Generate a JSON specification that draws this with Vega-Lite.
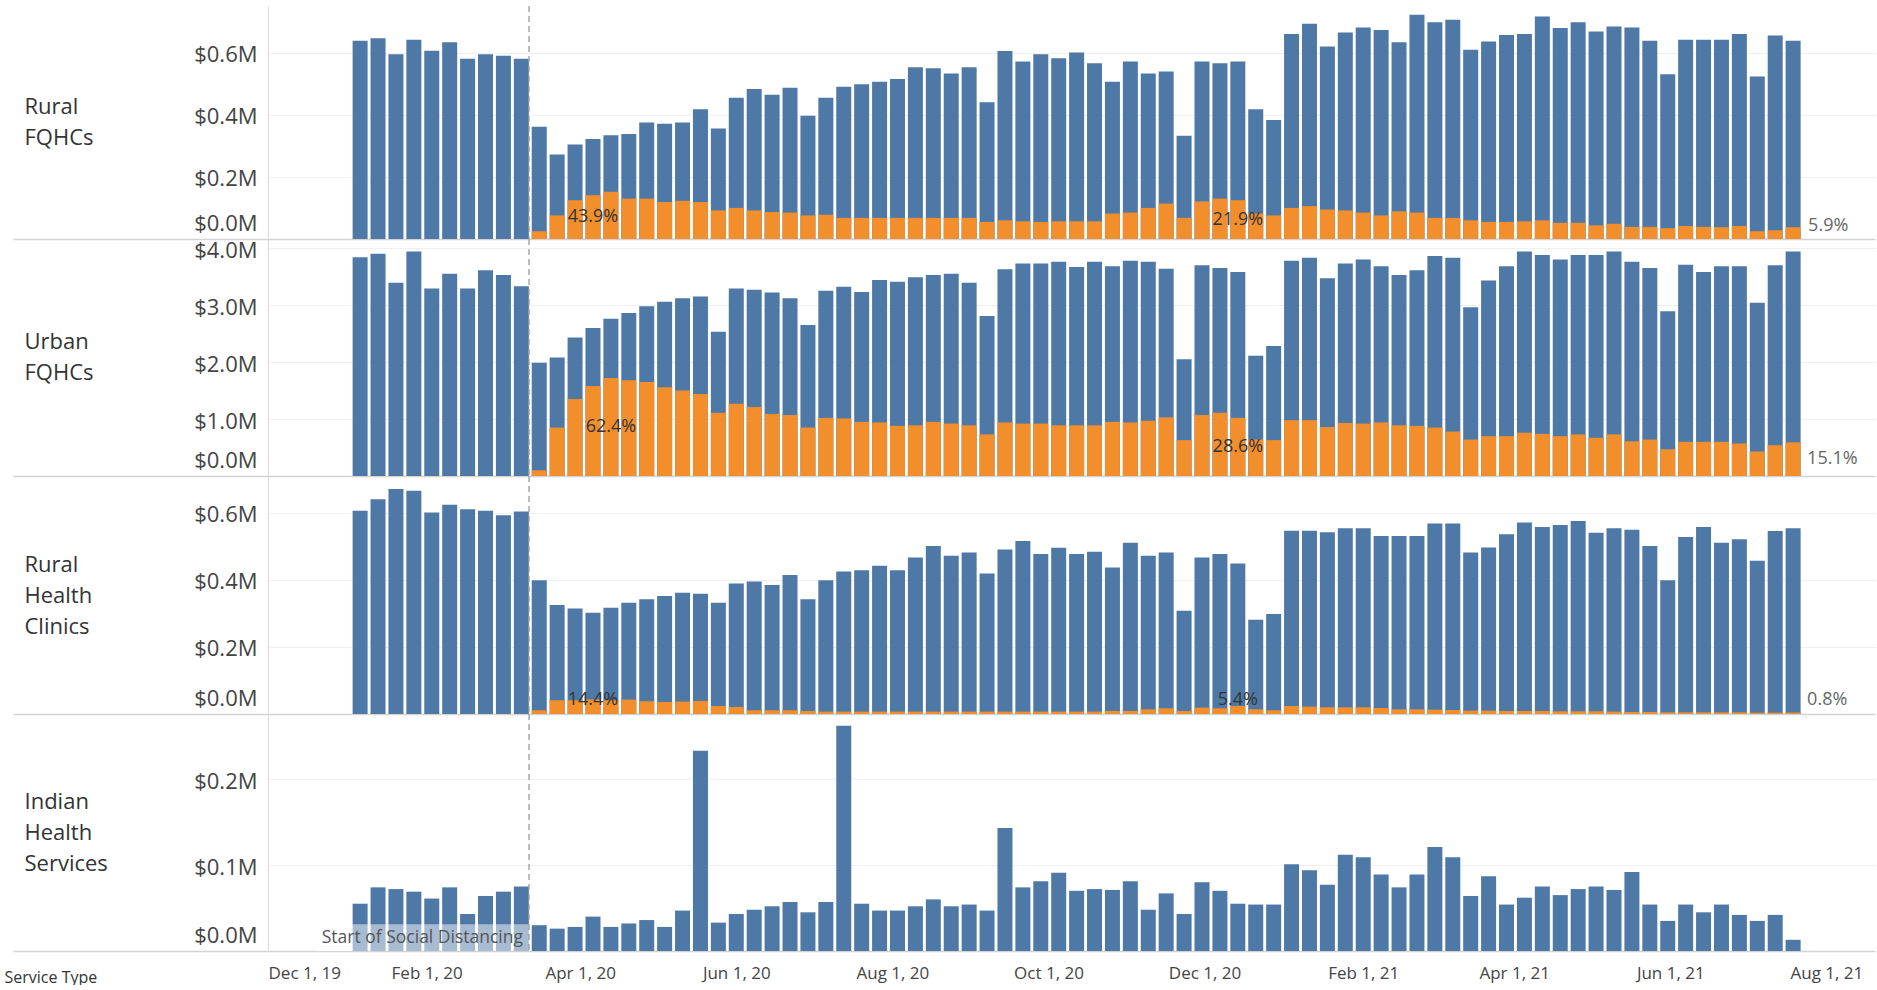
{
  "$schema": "https://vega.github.io/schema/vega-lite/v6.json",
  "padding": {"left": 4, "right": 2, "top": 5, "bottom": 0},
  "background": "white",
  "spacing": 0,
  "bounds": "flush",
  "config": {
    "font": "Open Sans",
    "view": {"stroke": null},
    "axis": {"labelFont": "Open Sans", "titleFont": "Open Sans"},
    "text": {"font": "Open Sans"}
  },
  "datasets": {
    "events": [{"date": "2020-03-12", "event": "Start of Social Distancing"}],
    "rural_fqhc": [
      {"week":"2020-01-06","total":0.638,"telehealth":0},
      {"week":"2020-01-13","total":0.646,"telehealth":0},
      {"week":"2020-01-20","total":0.595,"telehealth":0},
      {"week":"2020-01-27","total":0.641,"telehealth":0},
      {"week":"2020-02-03","total":0.606,"telehealth":0},
      {"week":"2020-02-10","total":0.633,"telehealth":0},
      {"week":"2020-02-17","total":0.580,"telehealth":0},
      {"week":"2020-02-24","total":0.595,"telehealth":0},
      {"week":"2020-03-02","total":0.590,"telehealth":0},
      {"week":"2020-03-09","total":0.580,"telehealth":0},
      {"week":"2020-03-16","total":0.361,"telehealth":0.025},
      {"week":"2020-03-23","total":0.272,"telehealth":0.076},
      {"week":"2020-03-30","total":0.304,"telehealth":0.125},
      {"week":"2020-04-06","total":0.322,"telehealth":0.141,"label":"43.9%"},
      {"week":"2020-04-13","total":0.334,"telehealth":0.152},
      {"week":"2020-04-20","total":0.338,"telehealth":0.130},
      {"week":"2020-04-27","total":0.375,"telehealth":0.130},
      {"week":"2020-05-04","total":0.371,"telehealth":0.119},
      {"week":"2020-05-11","total":0.375,"telehealth":0.123},
      {"week":"2020-05-18","total":0.418,"telehealth":0.119},
      {"week":"2020-05-25","total":0.356,"telehealth":0.092},
      {"week":"2020-06-01","total":0.455,"telehealth":0.100},
      {"week":"2020-06-08","total":0.483,"telehealth":0.092},
      {"week":"2020-06-15","total":0.464,"telehealth":0.087},
      {"week":"2020-06-22","total":0.487,"telehealth":0.085},
      {"week":"2020-06-29","total":0.397,"telehealth":0.076},
      {"week":"2020-07-06","total":0.455,"telehealth":0.078},
      {"week":"2020-07-13","total":0.490,"telehealth":0.068},
      {"week":"2020-07-20","total":0.498,"telehealth":0.068},
      {"week":"2020-07-27","total":0.506,"telehealth":0.068},
      {"week":"2020-08-03","total":0.515,"telehealth":0.068},
      {"week":"2020-08-10","total":0.553,"telehealth":0.068},
      {"week":"2020-08-17","total":0.550,"telehealth":0.068},
      {"week":"2020-08-24","total":0.533,"telehealth":0.068},
      {"week":"2020-08-31","total":0.553,"telehealth":0.068},
      {"week":"2020-09-07","total":0.440,"telehealth":0.055},
      {"week":"2020-09-14","total":0.605,"telehealth":0.060},
      {"week":"2020-09-21","total":0.571,"telehealth":0.057},
      {"week":"2020-09-28","total":0.595,"telehealth":0.055},
      {"week":"2020-10-05","total":0.582,"telehealth":0.057},
      {"week":"2020-10-12","total":0.600,"telehealth":0.057},
      {"week":"2020-10-19","total":0.566,"telehealth":0.057},
      {"week":"2020-10-26","total":0.506,"telehealth":0.082},
      {"week":"2020-11-02","total":0.571,"telehealth":0.085},
      {"week":"2020-11-09","total":0.533,"telehealth":0.100},
      {"week":"2020-11-16","total":0.539,"telehealth":0.114},
      {"week":"2020-11-23","total":0.332,"telehealth":0.068},
      {"week":"2020-11-30","total":0.571,"telehealth":0.121},
      {"week":"2020-12-07","total":0.566,"telehealth":0.130},
      {"week":"2020-12-14","total":0.571,"telehealth":0.125,"label":"21.9%"},
      {"week":"2020-12-21","total":0.418,"telehealth":0.082},
      {"week":"2020-12-28","total":0.383,"telehealth":0.076},
      {"week":"2021-01-04","total":0.660,"telehealth":0.100},
      {"week":"2021-01-11","total":0.693,"telehealth":0.106},
      {"week":"2021-01-18","total":0.620,"telehealth":0.095},
      {"week":"2021-01-25","total":0.665,"telehealth":0.092},
      {"week":"2021-02-01","total":0.681,"telehealth":0.085},
      {"week":"2021-02-08","total":0.673,"telehealth":0.076},
      {"week":"2021-02-15","total":0.633,"telehealth":0.089},
      {"week":"2021-02-22","total":0.722,"telehealth":0.085},
      {"week":"2021-03-01","total":0.698,"telehealth":0.068},
      {"week":"2021-03-08","total":0.706,"telehealth":0.068},
      {"week":"2021-03-15","total":0.609,"telehealth":0.060},
      {"week":"2021-03-22","total":0.636,"telehealth":0.055},
      {"week":"2021-03-29","total":0.657,"telehealth":0.055},
      {"week":"2021-04-05","total":0.660,"telehealth":0.057},
      {"week":"2021-04-12","total":0.716,"telehealth":0.060},
      {"week":"2021-04-19","total":0.679,"telehealth":0.052},
      {"week":"2021-04-26","total":0.698,"telehealth":0.052},
      {"week":"2021-05-03","total":0.668,"telehealth":0.044},
      {"week":"2021-05-10","total":0.684,"telehealth":0.049},
      {"week":"2021-05-17","total":0.681,"telehealth":0.039},
      {"week":"2021-05-24","total":0.638,"telehealth":0.039},
      {"week":"2021-05-31","total":0.530,"telehealth":0.035},
      {"week":"2021-06-07","total":0.641,"telehealth":0.042},
      {"week":"2021-06-14","total":0.641,"telehealth":0.039},
      {"week":"2021-06-21","total":0.641,"telehealth":0.038},
      {"week":"2021-06-28","total":0.660,"telehealth":0.042},
      {"week":"2021-07-05","total":0.523,"telehealth":0.025},
      {"week":"2021-07-12","total":0.655,"telehealth":0.028},
      {"week":"2021-07-19","total":0.638,"telehealth":0.038,"endLabel":"5.9%"}
    ],
    "urban_fqhc": [
      {"week":"2020-01-06","total":3.84,"telehealth":0},
      {"week":"2020-01-13","total":3.90,"telehealth":0},
      {"week":"2020-01-20","total":3.39,"telehealth":0},
      {"week":"2020-01-27","total":3.94,"telehealth":0},
      {"week":"2020-02-03","total":3.29,"telehealth":0},
      {"week":"2020-02-10","total":3.55,"telehealth":0},
      {"week":"2020-02-17","total":3.29,"telehealth":0},
      {"week":"2020-02-24","total":3.61,"telehealth":0},
      {"week":"2020-03-02","total":3.53,"telehealth":0},
      {"week":"2020-03-09","total":3.33,"telehealth":0},
      {"week":"2020-03-16","total":1.99,"telehealth":0.10},
      {"week":"2020-03-23","total":2.08,"telehealth":0.85},
      {"week":"2020-03-30","total":2.43,"telehealth":1.35},
      {"week":"2020-04-06","total":2.60,"telehealth":1.58},
      {"week":"2020-04-13","total":2.76,"telehealth":1.72,"label":"62.4%"},
      {"week":"2020-04-20","total":2.86,"telehealth":1.68},
      {"week":"2020-04-27","total":2.98,"telehealth":1.65},
      {"week":"2020-05-04","total":3.06,"telehealth":1.56},
      {"week":"2020-05-11","total":3.12,"telehealth":1.50},
      {"week":"2020-05-18","total":3.15,"telehealth":1.44},
      {"week":"2020-05-25","total":2.53,"telehealth":1.11},
      {"week":"2020-06-01","total":3.29,"telehealth":1.27},
      {"week":"2020-06-08","total":3.27,"telehealth":1.21},
      {"week":"2020-06-15","total":3.22,"telehealth":1.09},
      {"week":"2020-06-22","total":3.12,"telehealth":1.07},
      {"week":"2020-06-29","total":2.65,"telehealth":0.85},
      {"week":"2020-07-06","total":3.25,"telehealth":1.02},
      {"week":"2020-07-13","total":3.32,"telehealth":1.01},
      {"week":"2020-07-20","total":3.23,"telehealth":0.95},
      {"week":"2020-07-27","total":3.44,"telehealth":0.94},
      {"week":"2020-08-03","total":3.41,"telehealth":0.88},
      {"week":"2020-08-10","total":3.49,"telehealth":0.89},
      {"week":"2020-08-17","total":3.53,"telehealth":0.95},
      {"week":"2020-08-24","total":3.55,"telehealth":0.92},
      {"week":"2020-08-31","total":3.39,"telehealth":0.89},
      {"week":"2020-09-07","total":2.81,"telehealth":0.73},
      {"week":"2020-09-14","total":3.63,"telehealth":0.94},
      {"week":"2020-09-21","total":3.73,"telehealth":0.92},
      {"week":"2020-09-28","total":3.73,"telehealth":0.92},
      {"week":"2020-10-05","total":3.76,"telehealth":0.89},
      {"week":"2020-10-12","total":3.67,"telehealth":0.89},
      {"week":"2020-10-19","total":3.76,"telehealth":0.89},
      {"week":"2020-10-26","total":3.68,"telehealth":0.95},
      {"week":"2020-11-02","total":3.78,"telehealth":0.94},
      {"week":"2020-11-09","total":3.76,"telehealth":0.97},
      {"week":"2020-11-16","total":3.64,"telehealth":1.03},
      {"week":"2020-11-23","total":2.05,"telehealth":0.63},
      {"week":"2020-11-30","total":3.70,"telehealth":1.07},
      {"week":"2020-12-07","total":3.65,"telehealth":1.11},
      {"week":"2020-12-14","total":3.58,"telehealth":1.02,"label":"28.6%"},
      {"week":"2020-12-21","total":2.11,"telehealth":0.64},
      {"week":"2020-12-28","total":2.28,"telehealth":0.63},
      {"week":"2021-01-04","total":3.78,"telehealth":0.98},
      {"week":"2021-01-11","total":3.83,"telehealth":0.98},
      {"week":"2021-01-18","total":3.47,"telehealth":0.86},
      {"week":"2021-01-25","total":3.73,"telehealth":0.93},
      {"week":"2021-02-01","total":3.80,"telehealth":0.92},
      {"week":"2021-02-08","total":3.68,"telehealth":0.94},
      {"week":"2021-02-15","total":3.53,"telehealth":0.89},
      {"week":"2021-02-22","total":3.61,"telehealth":0.88},
      {"week":"2021-03-01","total":3.86,"telehealth":0.85},
      {"week":"2021-03-08","total":3.83,"telehealth":0.78},
      {"week":"2021-03-15","total":2.96,"telehealth":0.64},
      {"week":"2021-03-22","total":3.43,"telehealth":0.70},
      {"week":"2021-03-29","total":3.68,"telehealth":0.70},
      {"week":"2021-04-05","total":3.94,"telehealth":0.76},
      {"week":"2021-04-12","total":3.88,"telehealth":0.74},
      {"week":"2021-04-19","total":3.80,"telehealth":0.70},
      {"week":"2021-04-26","total":3.88,"telehealth":0.73},
      {"week":"2021-05-03","total":3.88,"telehealth":0.67},
      {"week":"2021-05-10","total":3.94,"telehealth":0.73},
      {"week":"2021-05-17","total":3.76,"telehealth":0.61},
      {"week":"2021-05-24","total":3.65,"telehealth":0.64},
      {"week":"2021-05-31","total":2.89,"telehealth":0.47},
      {"week":"2021-06-07","total":3.71,"telehealth":0.60},
      {"week":"2021-06-14","total":3.58,"telehealth":0.60},
      {"week":"2021-06-21","total":3.68,"telehealth":0.60},
      {"week":"2021-06-28","total":3.68,"telehealth":0.57},
      {"week":"2021-07-05","total":3.04,"telehealth":0.43},
      {"week":"2021-07-12","total":3.70,"telehealth":0.54},
      {"week":"2021-07-19","total":3.94,"telehealth":0.59,"endLabel":"15.1%"}
    ],
    "rural_rhc": [
      {"week":"2020-01-06","total":0.606,"telehealth":0},
      {"week":"2020-01-13","total":0.641,"telehealth":0},
      {"week":"2020-01-20","total":0.671,"telehealth":0},
      {"week":"2020-01-27","total":0.666,"telehealth":0},
      {"week":"2020-02-03","total":0.601,"telehealth":0},
      {"week":"2020-02-10","total":0.624,"telehealth":0},
      {"week":"2020-02-17","total":0.611,"telehealth":0},
      {"week":"2020-02-24","total":0.606,"telehealth":0},
      {"week":"2020-03-02","total":0.593,"telehealth":0},
      {"week":"2020-03-09","total":0.604,"telehealth":0},
      {"week":"2020-03-16","total":0.399,"telehealth":0.011},
      {"week":"2020-03-23","total":0.325,"telehealth":0.041},
      {"week":"2020-03-30","total":0.315,"telehealth":0.041},
      {"week":"2020-04-06","total":0.302,"telehealth":0.0435,"label":"14.4%"},
      {"week":"2020-04-13","total":0.317,"telehealth":0.041},
      {"week":"2020-04-20","total":0.332,"telehealth":0.043},
      {"week":"2020-04-27","total":0.342,"telehealth":0.038},
      {"week":"2020-05-04","total":0.352,"telehealth":0.036},
      {"week":"2020-05-11","total":0.362,"telehealth":0.037},
      {"week":"2020-05-18","total":0.359,"telehealth":0.039},
      {"week":"2020-05-25","total":0.332,"telehealth":0.024},
      {"week":"2020-06-01","total":0.389,"telehealth":0.021},
      {"week":"2020-06-08","total":0.395,"telehealth":0.011},
      {"week":"2020-06-15","total":0.385,"telehealth":0.011},
      {"week":"2020-06-22","total":0.415,"telehealth":0.011},
      {"week":"2020-06-29","total":0.342,"telehealth":0.009},
      {"week":"2020-07-06","total":0.399,"telehealth":0.007},
      {"week":"2020-07-13","total":0.425,"telehealth":0.007},
      {"week":"2020-07-20","total":0.429,"telehealth":0.007},
      {"week":"2020-07-27","total":0.442,"telehealth":0.007},
      {"week":"2020-08-03","total":0.429,"telehealth":0.007},
      {"week":"2020-08-10","total":0.467,"telehealth":0.007},
      {"week":"2020-08-17","total":0.501,"telehealth":0.007},
      {"week":"2020-08-24","total":0.472,"telehealth":0.007},
      {"week":"2020-08-31","total":0.482,"telehealth":0.007},
      {"week":"2020-09-07","total":0.419,"telehealth":0.007},
      {"week":"2020-09-14","total":0.491,"telehealth":0.007},
      {"week":"2020-09-21","total":0.516,"telehealth":0.007},
      {"week":"2020-09-28","total":0.477,"telehealth":0.007},
      {"week":"2020-10-05","total":0.496,"telehealth":0.007},
      {"week":"2020-10-12","total":0.477,"telehealth":0.007},
      {"week":"2020-10-19","total":0.484,"telehealth":0.007},
      {"week":"2020-10-26","total":0.437,"telehealth":0.009},
      {"week":"2020-11-02","total":0.511,"telehealth":0.009},
      {"week":"2020-11-09","total":0.472,"telehealth":0.014},
      {"week":"2020-11-16","total":0.482,"telehealth":0.017},
      {"week":"2020-11-23","total":0.308,"telehealth":0.009},
      {"week":"2020-11-30","total":0.467,"telehealth":0.019},
      {"week":"2020-12-07","total":0.477,"telehealth":0.017},
      {"week":"2020-12-14","total":0.449,"telehealth":0.024,"label":"5.4%"},
      {"week":"2020-12-21","total":0.281,"telehealth":0.014},
      {"week":"2020-12-28","total":0.298,"telehealth":0.011},
      {"week":"2021-01-04","total":0.547,"telehealth":0.024},
      {"week":"2021-01-11","total":0.547,"telehealth":0.022},
      {"week":"2021-01-18","total":0.542,"telehealth":0.020},
      {"week":"2021-01-25","total":0.554,"telehealth":0.020},
      {"week":"2021-02-01","total":0.554,"telehealth":0.020},
      {"week":"2021-02-08","total":0.531,"telehealth":0.018},
      {"week":"2021-02-15","total":0.531,"telehealth":0.014},
      {"week":"2021-02-22","total":0.531,"telehealth":0.014},
      {"week":"2021-03-01","total":0.568,"telehealth":0.013},
      {"week":"2021-03-08","total":0.568,"telehealth":0.012},
      {"week":"2021-03-15","total":0.482,"telehealth":0.010},
      {"week":"2021-03-22","total":0.497,"telehealth":0.010},
      {"week":"2021-03-29","total":0.536,"telehealth":0.009},
      {"week":"2021-04-05","total":0.571,"telehealth":0.009},
      {"week":"2021-04-12","total":0.558,"telehealth":0.009},
      {"week":"2021-04-19","total":0.564,"telehealth":0.008},
      {"week":"2021-04-26","total":0.576,"telehealth":0.008},
      {"week":"2021-05-03","total":0.541,"telehealth":0.008},
      {"week":"2021-05-10","total":0.554,"telehealth":0.007},
      {"week":"2021-05-17","total":0.550,"telehealth":0.006},
      {"week":"2021-05-24","total":0.501,"telehealth":0.006},
      {"week":"2021-05-31","total":0.399,"telehealth":0.005},
      {"week":"2021-06-07","total":0.528,"telehealth":0.005},
      {"week":"2021-06-14","total":0.558,"telehealth":0.005},
      {"week":"2021-06-21","total":0.511,"telehealth":0.005},
      {"week":"2021-06-28","total":0.521,"telehealth":0.005},
      {"week":"2021-07-05","total":0.457,"telehealth":0.004},
      {"week":"2021-07-12","total":0.546,"telehealth":0.004},
      {"week":"2021-07-19","total":0.554,"telehealth":0.0045,"endLabel":"0.8%"}
    ],
    "indian_health": [
      {"week":"2020-01-06","total":0.055,"telehealth":0},
      {"week":"2020-01-13","total":0.074,"telehealth":0},
      {"week":"2020-01-20","total":0.072,"telehealth":0},
      {"week":"2020-01-27","total":0.069,"telehealth":0},
      {"week":"2020-02-03","total":0.061,"telehealth":0},
      {"week":"2020-02-10","total":0.074,"telehealth":0},
      {"week":"2020-02-17","total":0.043,"telehealth":0},
      {"week":"2020-02-24","total":0.064,"telehealth":0},
      {"week":"2020-03-02","total":0.069,"telehealth":0},
      {"week":"2020-03-09","total":0.075,"telehealth":0},
      {"week":"2020-03-16","total":0.030,"telehealth":0},
      {"week":"2020-03-23","total":0.026,"telehealth":0},
      {"week":"2020-03-30","total":0.028,"telehealth":0},
      {"week":"2020-04-06","total":0.040,"telehealth":0},
      {"week":"2020-04-13","total":0.028,"telehealth":0},
      {"week":"2020-04-20","total":0.032,"telehealth":0},
      {"week":"2020-04-27","total":0.036,"telehealth":0},
      {"week":"2020-05-04","total":0.028,"telehealth":0},
      {"week":"2020-05-11","total":0.047,"telehealth":0},
      {"week":"2020-05-18","total":0.233,"telehealth":0},
      {"week":"2020-05-25","total":0.033,"telehealth":0},
      {"week":"2020-06-01","total":0.043,"telehealth":0},
      {"week":"2020-06-08","total":0.048,"telehealth":0},
      {"week":"2020-06-15","total":0.052,"telehealth":0},
      {"week":"2020-06-22","total":0.057,"telehealth":0},
      {"week":"2020-06-29","total":0.045,"telehealth":0},
      {"week":"2020-07-06","total":0.057,"telehealth":0},
      {"week":"2020-07-13","total":0.262,"telehealth":0},
      {"week":"2020-07-20","total":0.055,"telehealth":0},
      {"week":"2020-07-27","total":0.047,"telehealth":0},
      {"week":"2020-08-03","total":0.047,"telehealth":0},
      {"week":"2020-08-10","total":0.052,"telehealth":0},
      {"week":"2020-08-17","total":0.060,"telehealth":0},
      {"week":"2020-08-24","total":0.052,"telehealth":0},
      {"week":"2020-08-31","total":0.054,"telehealth":0},
      {"week":"2020-09-07","total":0.047,"telehealth":0},
      {"week":"2020-09-14","total":0.143,"telehealth":0},
      {"week":"2020-09-21","total":0.074,"telehealth":0},
      {"week":"2020-09-28","total":0.081,"telehealth":0},
      {"week":"2020-10-05","total":0.091,"telehealth":0},
      {"week":"2020-10-12","total":0.070,"telehealth":0},
      {"week":"2020-10-19","total":0.072,"telehealth":0},
      {"week":"2020-10-26","total":0.071,"telehealth":0},
      {"week":"2020-11-02","total":0.081,"telehealth":0},
      {"week":"2020-11-09","total":0.048,"telehealth":0},
      {"week":"2020-11-16","total":0.067,"telehealth":0},
      {"week":"2020-11-23","total":0.043,"telehealth":0},
      {"week":"2020-11-30","total":0.080,"telehealth":0},
      {"week":"2020-12-07","total":0.070,"telehealth":0},
      {"week":"2020-12-14","total":0.055,"telehealth":0},
      {"week":"2020-12-21","total":0.054,"telehealth":0},
      {"week":"2020-12-28","total":0.054,"telehealth":0},
      {"week":"2021-01-04","total":0.101,"telehealth":0},
      {"week":"2021-01-11","total":0.094,"telehealth":0},
      {"week":"2021-01-18","total":0.077,"telehealth":0},
      {"week":"2021-01-25","total":0.112,"telehealth":0},
      {"week":"2021-02-01","total":0.109,"telehealth":0},
      {"week":"2021-02-08","total":0.089,"telehealth":0},
      {"week":"2021-02-15","total":0.074,"telehealth":0},
      {"week":"2021-02-22","total":0.089,"telehealth":0},
      {"week":"2021-03-01","total":0.121,"telehealth":0},
      {"week":"2021-03-08","total":0.109,"telehealth":0},
      {"week":"2021-03-15","total":0.064,"telehealth":0},
      {"week":"2021-03-22","total":0.087,"telehealth":0},
      {"week":"2021-03-29","total":0.054,"telehealth":0},
      {"week":"2021-04-05","total":0.062,"telehealth":0},
      {"week":"2021-04-12","total":0.075,"telehealth":0},
      {"week":"2021-04-19","total":0.065,"telehealth":0},
      {"week":"2021-04-26","total":0.072,"telehealth":0},
      {"week":"2021-05-03","total":0.075,"telehealth":0},
      {"week":"2021-05-10","total":0.071,"telehealth":0},
      {"week":"2021-05-17","total":0.092,"telehealth":0},
      {"week":"2021-05-24","total":0.054,"telehealth":0},
      {"week":"2021-05-31","total":0.035,"telehealth":0},
      {"week":"2021-06-07","total":0.054,"telehealth":0},
      {"week":"2021-06-14","total":0.045,"telehealth":0},
      {"week":"2021-06-21","total":0.054,"telehealth":0},
      {"week":"2021-06-28","total":0.042,"telehealth":0},
      {"week":"2021-07-05","total":0.035,"telehealth":0},
      {"week":"2021-07-12","total":0.042,"telehealth":0},
      {"week":"2021-07-19","total":0.013,"telehealth":0}
    ]
  },
  "vconcat": [
    {
      "width": 1607,
      "height": 233,
      "data": {"name": "rural_fqhc"},
      "layer": [
        {
          "mark": {"type": "bar", "width": 15, "color": "#4e79a7"},
          "encoding": {
            "x": {"field": "week", "type": "temporal",
              "scale": {"type": "utc", "nice": false, "padding": 0, "domain": [{"year": 2019, "month": 12, "date": 1, "utc": true}, {"year": 2021, "month": 8, "date": 20, "utc": true}]},
              "axis": {"labels": false, "ticks": false, "grid": false, "title": null, "domainColor": "#d3d3d3", "domainWidth": 1.5}},
            "y": {"field": "total", "type": "quantitative",
              "scale": {"domain": [0, 0.75], "nice": false},
              "axis": {"values": [0, 0.2, 0.4, 0.6], "labelExpr": "'$' + format(datum.value, '.1f') + 'M'", "ticks": true, "tickSize": 255, "tickWidth": 1.5, "tickColor": {"condition": {"test": "datum.value === 0", "value": "#d3d3d3"}, "value": "transparent"}, "labelPadding": -244, "domainColor": "#d9d9d9", "gridColor": "#efefef", "labelFontSize": 22, "labelColor": "#444444", "labelOffset": 2, "labelFlush": true, "labelFlushOffset": -6, "title": ["Rural", "FQHCs"], "titleAngle": 0, "titleX": -244, "titleY": 100, "titleAlign": "left", "titleBaseline": "middle", "titleFontSize": 22, "titleFontWeight": "normal", "titleColor": "#333333", "titleLineHeight": 31}}
          }
        },
        {
          "mark": {"type": "bar", "width": 15, "color": "#f28e2b"},
          "encoding": {
            "x": {"field": "week", "type": "temporal"},
            "y": {"field": "telehealth", "type": "quantitative"}
          }
        },
        {
          "transform": [{"filter": "datum.label"}],
          "mark": {"type": "text", "fontSize": 18, "color": "#333333", "baseline": "middle"},
          "encoding": {
            "x": {"field": "week", "type": "temporal"},
            "y": {"field": "telehealth", "type": "quantitative", "stack": "zero", "bandPosition": 0.5},
            "text": {"field": "label"}
          }
        },
        {
          "transform": [{"filter": "datum.endLabel"}],
          "mark": {"type": "text", "fontSize": 18, "color": "#666666", "align": "left", "baseline": "middle", "dx": 15, "dy": -13},
          "encoding": {
            "x": {"field": "week", "type": "temporal"},
            "y": {"datum": 0, "type": "quantitative"},
            "text": {"field": "endLabel"}
          }
        },
        {
          "data": {"name": "events"},
          "mark": {"type": "rule", "color": "#9a9a9a", "strokeDash": [6, 4], "strokeWidth": 1.3},
          "encoding": {"x": {"field": "date", "type": "temporal"}}
        }
      ]
    },
    {
      "width": 1607,
      "height": 237,
      "data": {"name": "urban_fqhc"},
      "layer": [
        {
          "mark": {"type": "bar", "width": 15, "color": "#4e79a7"},
          "encoding": {
            "x": {"field": "week", "type": "temporal",
              "scale": {"type": "utc", "nice": false, "padding": 0, "domain": [{"year": 2019, "month": 12, "date": 1, "utc": true}, {"year": 2021, "month": 8, "date": 20, "utc": true}]},
              "axis": {"labels": false, "ticks": false, "grid": false, "title": null, "domainColor": "#d3d3d3", "domainWidth": 1.5}},
            "y": {"field": "total", "type": "quantitative",
              "scale": {"domain": [0, 4.16], "nice": false},
              "axis": {"values": [0, 1, 2, 3, 4], "labelExpr": "'$' + format(datum.value, '.1f') + 'M'", "ticks": true, "tickSize": 255, "tickWidth": 1.5, "tickColor": {"condition": {"test": "datum.value === 0", "value": "#d3d3d3"}, "value": "transparent"}, "labelPadding": -244, "domainColor": "#d9d9d9", "gridColor": "#efefef", "labelFontSize": 22, "labelColor": "#444444", "labelOffset": 2, "labelFlush": true, "labelFlushOffset": -6, "title": ["Urban", "FQHCs"], "titleAngle": 0, "titleX": -244, "titleY": 102.5, "titleAlign": "left", "titleBaseline": "middle", "titleFontSize": 22, "titleFontWeight": "normal", "titleColor": "#333333", "titleLineHeight": 31}}
          }
        },
        {
          "mark": {"type": "bar", "width": 15, "color": "#f28e2b"},
          "encoding": {
            "x": {"field": "week", "type": "temporal"},
            "y": {"field": "telehealth", "type": "quantitative"}
          }
        },
        {
          "transform": [{"filter": "datum.label"}],
          "mark": {"type": "text", "fontSize": 18, "color": "#333333", "baseline": "middle"},
          "encoding": {
            "x": {"field": "week", "type": "temporal"},
            "y": {"field": "telehealth", "type": "quantitative", "stack": "zero", "bandPosition": 0.5},
            "text": {"field": "label"}
          }
        },
        {
          "transform": [{"filter": "datum.endLabel"}],
          "mark": {"type": "text", "fontSize": 18, "color": "#666666", "align": "left", "baseline": "middle", "dx": 14, "dy": -17},
          "encoding": {
            "x": {"field": "week", "type": "temporal"},
            "y": {"datum": 0, "type": "quantitative"},
            "text": {"field": "endLabel"}
          }
        },
        {
          "data": {"name": "events"},
          "mark": {"type": "rule", "color": "#9a9a9a", "strokeDash": [6, 4], "strokeWidth": 1.3},
          "encoding": {"x": {"field": "date", "type": "temporal"}}
        }
      ]
    },
    {
      "width": 1607,
      "height": 238,
      "data": {"name": "rural_rhc"},
      "layer": [
        {
          "mark": {"type": "bar", "width": 15, "color": "#4e79a7"},
          "encoding": {
            "x": {"field": "week", "type": "temporal",
              "scale": {"type": "utc", "nice": false, "padding": 0, "domain": [{"year": 2019, "month": 12, "date": 1, "utc": true}, {"year": 2021, "month": 8, "date": 20, "utc": true}]},
              "axis": {"labels": false, "ticks": false, "grid": false, "title": null, "domainColor": "#d3d3d3", "domainWidth": 1.5}},
            "y": {"field": "total", "type": "quantitative",
              "scale": {"domain": [0, 0.71], "nice": false},
              "axis": {"values": [0, 0.2, 0.4, 0.6], "labelExpr": "'$' + format(datum.value, '.1f') + 'M'", "ticks": true, "tickSize": 255, "tickWidth": 1.5, "tickColor": {"condition": {"test": "datum.value === 0", "value": "#d3d3d3"}, "value": "transparent"}, "labelPadding": -244, "domainColor": "#d9d9d9", "gridColor": "#efefef", "labelFontSize": 22, "labelColor": "#444444", "labelOffset": 2, "labelFlush": true, "labelFlushOffset": -6, "title": ["Rural", "Health", "Clinics"], "titleAngle": 0, "titleX": -244, "titleY": 88, "titleAlign": "left", "titleBaseline": "middle", "titleFontSize": 22, "titleFontWeight": "normal", "titleColor": "#333333", "titleLineHeight": 31}}
          }
        },
        {
          "mark": {"type": "bar", "width": 15, "color": "#f28e2b"},
          "encoding": {
            "x": {"field": "week", "type": "temporal"},
            "y": {"field": "telehealth", "type": "quantitative"}
          }
        },
        {
          "transform": [{"filter": "datum.label"}],
          "mark": {"type": "text", "fontSize": 18, "color": "#333333", "baseline": "middle", "dy": -14},
          "encoding": {
            "x": {"field": "week", "type": "temporal"},
            "y": {"datum": 0, "type": "quantitative"},
            "text": {"field": "label"}
          }
        },
        {
          "transform": [{"filter": "datum.endLabel"}],
          "mark": {"type": "text", "fontSize": 18, "color": "#666666", "align": "left", "baseline": "middle", "dx": 14, "dy": -14},
          "encoding": {
            "x": {"field": "week", "type": "temporal"},
            "y": {"datum": 0, "type": "quantitative"},
            "text": {"field": "endLabel"}
          }
        },
        {
          "data": {"name": "events"},
          "mark": {"type": "rule", "color": "#9a9a9a", "strokeDash": [6, 4], "strokeWidth": 1.3},
          "encoding": {"x": {"field": "date", "type": "temporal"}}
        }
      ]
    },
    {
      "width": 1607,
      "height": 237,
      "data": {"name": "indian_health"},
      "layer": [
        {
          "mark": {"type": "bar", "width": 15, "color": "#4e79a7"},
          "encoding": {
            "x": {"field": "week", "type": "temporal",
              "scale": {"type": "utc", "nice": false, "padding": 0, "domain": [{"year": 2019, "month": 12, "date": 1, "utc": true}, {"year": 2021, "month": 8, "date": 20, "utc": true}]},
              "axis": {
                "values": [
                  {"year": 2019, "month": 12, "date": 1, "utc": true},
                  {"year": 2020, "month": 2, "date": 1, "utc": true},
                  {"year": 2020, "month": 4, "date": 1, "utc": true},
                  {"year": 2020, "month": 6, "date": 1, "utc": true},
                  {"year": 2020, "month": 8, "date": 1, "utc": true},
                  {"year": 2020, "month": 10, "date": 1, "utc": true},
                  {"year": 2020, "month": 12, "date": 1, "utc": true},
                  {"year": 2021, "month": 2, "date": 1, "utc": true},
                  {"year": 2021, "month": 4, "date": 1, "utc": true},
                  {"year": 2021, "month": 6, "date": 1, "utc": true},
                  {"year": 2021, "month": 8, "date": 1, "utc": true}
                ],
                "format": "%b %-d, %y",
                "labelFlush": true,
                "labelOverlap": false,
                "labelFontSize": 17,
                "labelColor": "#444444",
                "labelPadding": 14,
                "ticks": false,
                "grid": false,
                "domainColor": "#d3d3d3",
                "domainWidth": 1.5,
                "title": "Service Type",
                "titleX": -264,
                "titleY": 31,
                "titleAlign": "left",
                "titleAnchor": "start",
                "titleBaseline": "alphabetic",
                "titleFontSize": 16,
                "titleFontWeight": "normal",
                "titleColor": "#333333"
              }},
            "y": {"field": "total", "type": "quantitative",
              "scale": {"domain": [0, 0.2756], "nice": false},
              "axis": {"values": [0, 0.1, 0.2], "labelExpr": "'$' + format(datum.value, '.1f') + 'M'", "ticks": true, "tickSize": 255, "tickWidth": 1.5, "tickColor": {"condition": {"test": "datum.value === 0", "value": "#d3d3d3"}, "value": "transparent"}, "labelPadding": -244, "domainColor": "#d9d9d9", "gridColor": "#efefef", "labelFontSize": 22, "labelColor": "#444444", "labelOffset": 2, "labelFlush": true, "labelFlushOffset": -6, "title": ["Indian", "Health", "Services"], "titleAngle": 0, "titleX": -244, "titleY": 87, "titleAlign": "left", "titleBaseline": "middle", "titleFontSize": 22, "titleFontWeight": "normal", "titleColor": "#333333", "titleLineHeight": 31}}
          }
        },
        {
          "mark": {"type": "bar", "width": 15, "color": "#f28e2b"},
          "encoding": {
            "x": {"field": "week", "type": "temporal"},
            "y": {"field": "telehealth", "type": "quantitative"}
          }
        },
        {
          "data": {"name": "events"},
          "mark": {"type": "rect", "color": "#ffffff", "opacity": 0.5},
          "encoding": {
            "x": {"datum": {"year": 2019, "month": 12, "date": 20, "utc": true}, "type": "temporal"},
            "x2": {"datum": {"year": 2020, "month": 3, "date": 12, "utc": true}},
            "y": {"datum": 0, "type": "quantitative"},
            "y2": {"datum": 0.031}
          }
        },
        {
          "data": {"name": "events"},
          "mark": {"type": "text", "fontSize": 17.5, "color": "#555555", "align": "right", "baseline": "middle", "dx": -6, "dy": -13},
          "encoding": {
            "x": {"field": "date", "type": "temporal"},
            "y": {"datum": 0, "type": "quantitative"},
            "text": {"field": "event"}
          }
        },
        {
          "data": {"name": "events"},
          "mark": {"type": "rule", "color": "#9a9a9a", "strokeDash": [6, 4], "strokeWidth": 1.3},
          "encoding": {"x": {"field": "date", "type": "temporal"}}
        }
      ]
    }
  ]
}
